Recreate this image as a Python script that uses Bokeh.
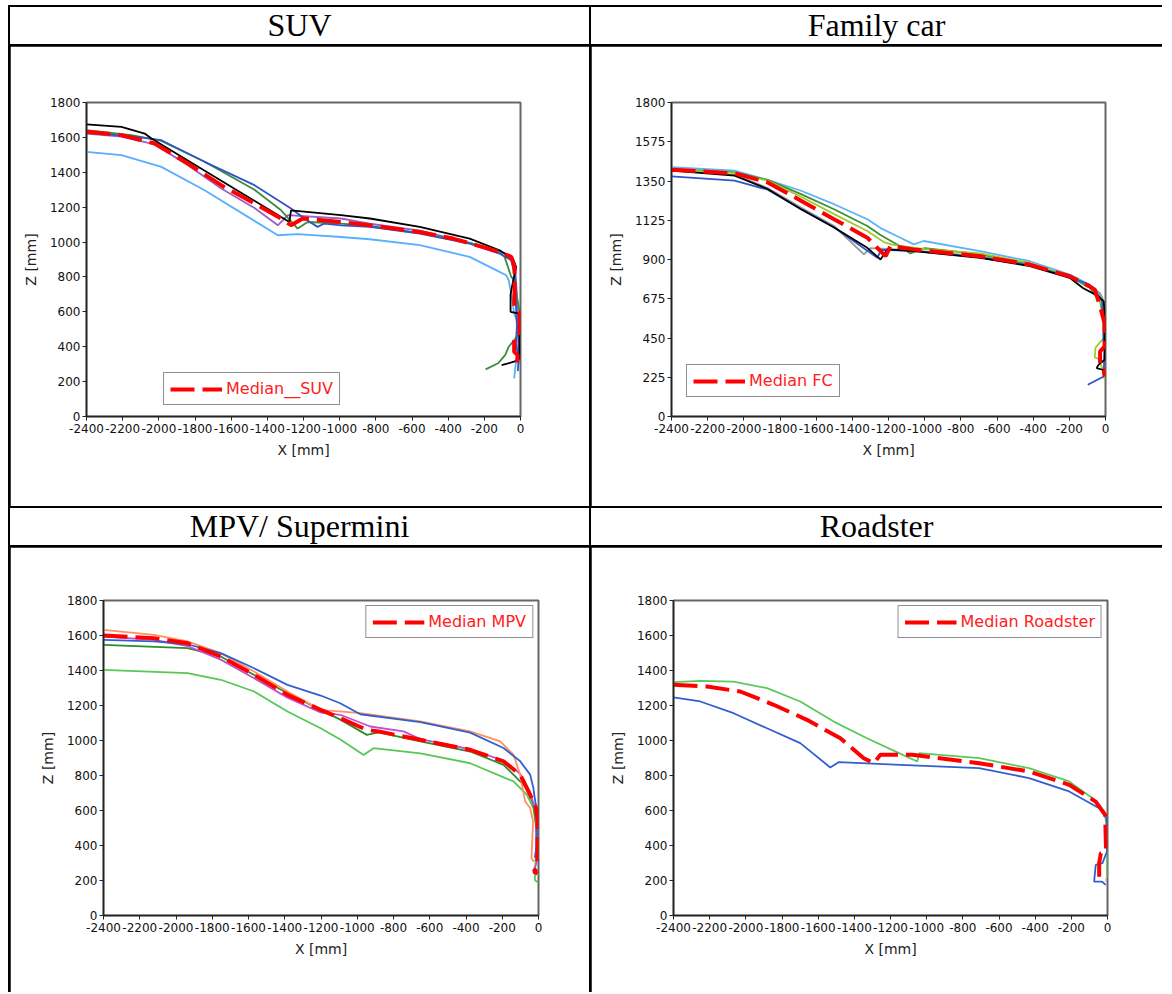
from bokeh.plotting import figure
from bokeh.models import Range1d, FixedTicker, Div, Row, Column
from bokeh.embed import file_html
from bokeh.resources import INLINE

# ---------------- data ----------------
x_ticks = list(range(-2400, 1, 200))
y_ticks_200 = list(range(0, 1801, 200))
y_ticks_225 = list(range(0, 1801, 225))

titles = ["SUV", "Family car", "MPV/ Supermini", "Roadster"]
legend_labels = ["Median__SUV", "Median FC", "Median MPV", "Median Roadster"]

# SUV
suv_black_x = [-2400, -2207, -2078, -2041, -1278, -1269, -993, -833, -557, -281, -116, -42, -24, -40, -55, -55, -6, -6, -35, -104]
suv_black_z = [1675, 1660, 1622, 1594, 1115, 1182, 1154, 1135, 1087, 1020, 953, 905, 857, 781, 700, 600, 590, 333, 314, 295]
suv_blue_x = [-2400, -2152, -1986, -1747, -1471, -1269, -1195, -1122, -1085, -993, -833, -557, -281, -116, -51, -30, -25, -20, -25, -10, -15]
suv_blue_z = [1626, 1607, 1584, 1460, 1326, 1192, 1135, 1087, 1106, 1096, 1087, 1049, 991, 934, 896, 800, 640, 520, 420, 330, 260]
suv_lblue_x = [-2400, -2207, -1986, -1747, -1342, -1232, -993, -833, -557, -281, -116, -79, -65, -45, -35, -6, -8, -26, -35]
suv_lblue_z = [1517, 1498, 1431, 1297, 1039, 1045, 1029, 1016, 982, 915, 829, 810, 781, 667, 590, 514, 400, 305, 219]
suv_green_x = [-2400, -2152, -1986, -1747, -1471, -1324, -1232, -1177, -993, -833, -557, -281, -116, -88, -51, -35, -10, -6, -6, -35, -65, -85, -124, -193]
suv_green_z = [1641, 1613, 1580, 1460, 1300, 1182, 1077, 1115, 1106, 1092, 1052, 995, 940, 915, 800, 781, 629, 600, 476, 438, 400, 352, 305, 270]
suv_purple_x = [-2400, -2207, -2023, -1839, -1655, -1471, -1342, -1287, -993, -833, -557, -281, -116, -51, -30, -20, -15, -10]
suv_purple_z = [1622, 1605, 1560, 1440, 1307, 1195, 1096, 1154, 1135, 1105, 1065, 995, 948, 915, 860, 700, 500, 300]
suv_median_x = [-2400, -2207, -2023, -1839, -1655, -1471, -1324, -1269, -1204, -993, -833, -557, -373, -245, -116, -51, -33, -33, -35, -5, -5, -35, -35, -16, -20]
suv_median_z = [1632, 1613, 1565, 1450, 1326, 1221, 1135, 1097, 1135, 1115, 1096, 1058, 1020, 982, 943, 915, 857, 723, 620, 600, 480, 457, 371, 352, 295]

# Family car
fc_lblue_x = [-2400, -2051, -1868, -1684, -1501, -1317, -1244, -1134, -1061, -1006, -694, -418, -198, -88, -39, -10, -5]
fc_lblue_z = [1429, 1410, 1356, 1294, 1217, 1131, 1080, 1025, 987, 1006, 948, 890, 813, 756, 707, 593, 535]
fc_green_x = [-2400, -2051, -1868, -1684, -1501, -1317, -1244, -1150, -1079, -1000, -694, -418, -198, -88, -30, -10, -5]
fc_green_z = [1420, 1400, 1356, 1275, 1188, 1092, 1040, 985, 935, 965, 930, 875, 800, 740, 660, 560, 480]
fc_ygreen_x = [-2400, -2051, -1868, -1684, -1501, -1317, -1226, -1180, -1000, -694, -418, -198, -88, -40, -15, -10, -55, -60, -40, -10, -5]
fc_ygreen_z = [1415, 1395, 1352, 1260, 1160, 1063, 1000, 985, 960, 935, 880, 805, 748, 690, 620, 450, 395, 340, 330, 260, 210]
fc_gray_x = [-2400, -2051, -1868, -1684, -1501, -1336, -1300, -1061, -694, -418, -198, -88, -30, -5, -5]
fc_gray_z = [1412, 1385, 1310, 1198, 1092, 929, 965, 952, 918, 870, 808, 750, 707, 650, 560]
fc_blue_x = [-2400, -2051, -1868, -1684, -1501, -1262, -1240, -1061, -694, -418, -198, -89, -20, -10, -12, -5, -8, -10, -98]
fc_blue_z = [1377, 1352, 1300, 1190, 1085, 910, 955, 950, 912, 866, 800, 755, 669, 535, 440, 390, 300, 229, 182]
fc_black_x = [-2400, -2051, -1868, -1684, -1501, -1317, -1244, -1207, -1061, -694, -418, -198, -125, -40, -10, -5, -5, -39, -49, -15, -5]
fc_black_z = [1410, 1381, 1304, 1188, 1083, 967, 900, 958, 948, 910, 862, 795, 737, 690, 660, 593, 325, 296, 277, 268, 249]
fc_median_x = [-2400, -2051, -1868, -1684, -1501, -1317, -1244, -1216, -1189, -1061, -694, -418, -198, -88, -59, -30, -5, -5, -30, -30, -10, -5]
fc_median_z = [1415, 1394, 1342, 1237, 1131, 1025, 948, 919, 977, 958, 919, 871, 804, 746, 727, 631, 535, 401, 373, 287, 268, 230]

# MPV / Supermini
mpv_salmon_x = [-2400, -2121, -1937, -1753, -1569, -1385, -1202, -983, -652, -377, -211, -138, -101, -74, -46, -30, -35, -39, -25]
mpv_salmon_z = [1632, 1604, 1566, 1499, 1394, 1280, 1175, 1156, 1109, 1052, 995, 919, 805, 652, 614, 538, 413, 327, 308]
mpv_blue_x = [-2400, -2121, -1937, -1753, -1569, -1385, -1202, -1094, -983, -652, -377, -193, -101, -46, -28, -25, -10, -10, -20]
mpv_blue_z = [1575, 1566, 1550, 1499, 1413, 1318, 1257, 1213, 1150, 1105, 1045, 957, 881, 805, 728, 700, 600, 400, 330]
mpv_magenta_x = [-2400, -2121, -1937, -1753, -1569, -1385, -1202, -1094, -928, -745, -652, -377, -193, -101, -46, -15, -10, -30]
mpv_magenta_z = [1594, 1575, 1540, 1462, 1356, 1245, 1160, 1147, 1080, 1052, 1008, 950, 885, 810, 700, 600, 300, 254]
mpv_dgreen_x = [-2400, -1937, -1753, -1385, -1091, -947, -882, -652, -377, -193, -64, -28, -10, -5]
mpv_dgreen_z = [1547, 1528, 1480, 1270, 1118, 1032, 1047, 995, 937, 861, 728, 633, 500, 350]
mpv_lgreen_x = [-2400, -1937, -1753, -1569, -1385, -1202, -1091, -965, -910, -652, -377, -138, -64, -28, -10, -15, -20, -5]
mpv_lgreen_z = [1404, 1385, 1347, 1280, 1166, 1070, 1004, 917, 956, 927, 870, 766, 690, 614, 480, 350, 202, 190]
mpv_median_x = [-2400, -2121, -1937, -1753, -1569, -1385, -1202, -1094, -947, -882, -652, -377, -193, -101, -46, -13, -5, -5, -8, -26, -5]
mpv_median_z = [1600, 1585, 1556, 1480, 1375, 1261, 1175, 1128, 1061, 1052, 1004, 947, 881, 805, 690, 614, 538, 346, 269, 250, 240]

# Roadster
rd_green_x = [-2400, -2252, -2068, -1883, -1699, -1514, -1330, -1153, -1052, -1042, -710, -434, -212, -83, -18, -5, -3, 0]
rd_green_z = [1333, 1341, 1337, 1299, 1223, 1108, 1013, 928, 880, 928, 899, 842, 766, 670, 594, 518, 404, 213]
rd_blue_x = [-2400, -2252, -2068, -1883, -1699, -1533, -1487, -1145, -710, -434, -212, -46, -5, -3, -28, -65, -74, -30, -10]
rd_blue_z = [1246, 1223, 1156, 1070, 985, 846, 876, 861, 842, 785, 709, 613, 556, 366, 299, 289, 194, 194, 175]
rd_median_x = [-2400, -2215, -2031, -1846, -1662, -1477, -1348, -1293, -1256, -1079, -710, -434, -212, -65, -13, -8, -37, -46, -46, -10]
rd_median_z = [1318, 1308, 1280, 1204, 1118, 1013, 899, 870, 918, 918, 870, 823, 747, 651, 575, 366, 356, 299, 213, 203]

# ---------------- styling ----------------
TICK_FONT = "DejaVu Sans"


def make_chart(series, median, yticks, legend_text, w, h, borders, legend_loc):
    left, right, top, bottom = borders
    p = figure(width=w, height=h, output_backend="svg", toolbar_location=None,
               x_range=Range1d(-2400, 0), y_range=Range1d(0, 1800),
               min_border_left=left, min_border_right=right,
               min_border_top=top, min_border_bottom=bottom,
               background_fill_color="white", border_fill_color="white",
               margin=(0, 0, 0, 0))
    p.xgrid.visible = False
    p.ygrid.visible = False
    p.outline_line_color = "#666666"
    p.outline_line_width = 2
    for ax in (p.xaxis[0], p.yaxis[0]):
        ax.axis_line_color = "#222222"
        ax.axis_line_width = 1.5
        ax.major_tick_line_color = "#222222"
        ax.major_tick_in = 0
        ax.major_tick_out = 4
        ax.minor_tick_line_color = None
        ax.major_label_text_font = TICK_FONT
        ax.major_label_text_font_size = "12px"
        ax.major_label_text_color = "#111111"
        ax.axis_label_text_font = TICK_FONT
        ax.axis_label_text_font_size = "14px"
        ax.axis_label_text_font_style = "normal"
        ax.axis_label_text_color = "#222222"
    p.xaxis.ticker = FixedTicker(ticks=x_ticks)
    p.yaxis.ticker = FixedTicker(ticks=yticks)
    p.xaxis.major_label_overrides = {t: str(t) for t in x_ticks}
    p.yaxis.major_label_overrides = {t: str(t) for t in yticks}
    p.xaxis.axis_label = "X [mm]"
    p.yaxis.axis_label = "Z [mm]"
    p.xaxis.major_label_standoff = 3
    p.yaxis.major_label_standoff = 2
    p.xaxis.axis_label_standoff = 6
    p.yaxis.axis_label_standoff = 8

    for xs, zs, color in series:
        p.line(xs, zs, line_color=color, line_width=1.8)
    mx, mz = median
    p.line(mx, mz, line_color="#ff0000", line_width=4, line_dash="24 8",
           legend_label=legend_text)

    lg = p.legend[0]
    lg.location = legend_loc
    lg.border_line_color = "#222222"
    lg.border_line_width = 1
    lg.background_fill_color = "white"
    lg.background_fill_alpha = 1
    lg.label_text_color = "#ff2020"
    lg.label_text_font = TICK_FONT
    lg.label_text_font_size = "16px"
    lg.glyph_width = 52
    lg.glyph_height = 18
    lg.label_height = 18
    lg.label_standoff = 4
    lg.padding = 6
    lg.margin = 5
    return p


def header(text, w):
    return Div(text=text, width=w, height=37, margin=(0, 0, 0, 0),
               styles={"background-color": "white",
                       "font-family": "'Liberation Serif', 'Times New Roman', serif",
                       "font-size": "32px", "text-align": "center",
                       "line-height": "37px", "color": "black",
                       "overflow": "hidden"})


W0, W1 = 579, 571
H0, H1 = 460, 445

p_suv = make_chart(
    [(suv_lblue_x, suv_lblue_z, "#5aaeff"),
     (suv_purple_x, suv_purple_z, "#9a5fc8"),
     (suv_green_x, suv_green_z, "#3d8b3d"),
     (suv_blue_x, suv_blue_z, "#2f55c8"),
     (suv_black_x, suv_black_z, "#000000")],
    (suv_median_x, suv_median_z), y_ticks_200, legend_labels[0],
    W0, H0, (76, 69, 56, 90), (77, 11))

p_fc = make_chart(
    [(fc_gray_x, fc_gray_z, "#9a9a9a"),
     (fc_lblue_x, fc_lblue_z, "#5ab4f7"),
     (fc_green_x, fc_green_z, "#3f8f2f"),
     (fc_ygreen_x, fc_ygreen_z, "#9ccc2c"),
     (fc_blue_x, fc_blue_z, "#3055c8"),
     (fc_black_x, fc_black_z, "#000000")],
    (fc_median_x, fc_median_z), y_ticks_225, legend_labels[1],
    W1, H0, (80, 57, 56, 90), (15, 19))

p_mpv = make_chart(
    [(mpv_lgreen_x, mpv_lgreen_z, "#55c855"),
     (mpv_dgreen_x, mpv_dgreen_z, "#2e8b2e"),
     (mpv_magenta_x, mpv_magenta_z, "#c050d0"),
     (mpv_salmon_x, mpv_salmon_z, "#ff9060"),
     (mpv_blue_x, mpv_blue_z, "#3060d0")],
    (mpv_median_x, mpv_median_z), y_ticks_200, legend_labels[2],
    W0, H1, (93, 51, 53, 77), "top_right")

p_rd = make_chart(
    [(rd_green_x, rd_green_z, "#5cc85c"),
     (rd_blue_x, rd_blue_z, "#3060d0")],
    (rd_median_x, rd_median_z), y_ticks_200, legend_labels[3],
    W1, H1, (82, 55, 53, 77), "top_right")

row1 = Row(children=[header(titles[0], W0), header(titles[1], W1)], spacing=2, margin=(0, 0, 0, 0))
row2 = Row(children=[p_suv, p_fc], spacing=2, margin=(0, 0, 0, 0))
row3 = Row(children=[header(titles[2], W0), header(titles[3], W1)], spacing=2, margin=(0, 0, 0, 0))
row4 = Row(children=[p_mpv, p_rd], spacing=2, margin=(0, 0, 0, 0))

table = Column(children=[row1, row2, row3, row4], spacing=2, margin=(5, 0, 0, 8),
               styles={"background-color": "black", "padding": "2px 0px 0px 2px"})

open("out.html", "w").write(file_html(table, INLINE, "Car profiles"))
